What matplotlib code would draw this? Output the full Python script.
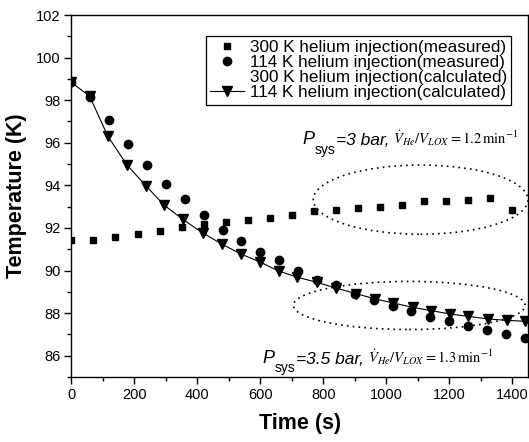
import matplotlib
matplotlib.use('Agg')
import matplotlib.pyplot as plt
from matplotlib.patches import Ellipse
from matplotlib.ticker import MultipleLocator

plt.rcParams['font.family'] = ['Liberation Sans', 'DejaVu Sans']
plt.rcParams['mathtext.fontset'] = 'stix'

# 300 K helium injection, measured (squares)
t_300 = [0, 70, 140, 210, 280, 350, 420, 490, 560, 630, 700,
         770, 840, 910, 980, 1050, 1120, 1190, 1260, 1330, 1400]
T_300 = [91.42, 91.45, 91.58, 91.72, 91.84, 92.05, 92.2, 92.28, 92.36, 92.47, 92.62,
         92.78, 92.86, 92.94, 92.98, 93.09, 93.27, 93.25, 93.33, 93.41, 92.86]

# 114 K helium injection, measured (circles)
t_114m = [0, 60, 120, 180, 240, 300, 360, 420, 480, 540, 600, 660, 720,
          780, 840, 900, 960, 1020, 1080, 1140, 1200, 1260, 1320, 1380, 1440]
T_114m = [98.84, 98.15, 97.05, 95.96, 94.96, 94.07, 93.36, 92.59, 91.92, 91.39, 90.89, 90.5, 90.0,
          89.57, 89.31, 88.92, 88.63, 88.32, 88.08, 87.82, 87.65, 87.41, 87.23, 87.02, 86.84]

# 114 K helium injection, calculated (triangles + line)
t_114c = [0, 58, 116, 176, 236, 294, 354, 417, 477, 538, 599, 658, 717,
          779, 840, 904, 964, 1022, 1084, 1142, 1202, 1260, 1322, 1382, 1440]
T_114c = [98.84, 98.18, 96.3, 94.97, 93.99, 93.08, 92.4, 91.77, 91.25, 90.78, 90.4, 89.98, 89.69,
          89.45, 89.18, 88.92, 88.67, 88.48, 88.27, 88.12, 87.96, 87.85, 87.73, 87.66, 87.62]

labels = ['300 K helium injection(measured)', '114 K helium injection(measured)',
          '300 K helium injection(calculated)', '114 K helium injection(calculated)']

fig = plt.figure(figsize=(5.29, 4.42), dpi=100)
ax = fig.add_axes([0.135, 0.147, 0.863, 0.819])

ax.plot(t_300, T_300, 's', color='black', ms=5, label=labels[0])
ax.plot(t_114m, T_114m, 'o', color='black', ms=6, label=labels[1])
ax.plot([], [], ' ', label=labels[2])
ax.plot(t_114c, T_114c, 'v-', color='black', ms=7, lw=0.8, label=labels[3])

# dotted ellipses around the end of each run
for cx, cy, w, h in [(1109, 93.33, 682, 3.25), (1073, 88.36, 736, 2.26)]:
    ax.add_patch(Ellipse((cx, cy), w, h, fill=False, edgecolor='black',
                         lw=1.2, linestyle=(0, (1, 2.5))))

ax.set_xlim(0, 1450)
ax.set_ylim(85, 102)
ax.xaxis.set_major_locator(MultipleLocator(200))
ax.xaxis.set_minor_locator(MultipleLocator(100))
ax.yaxis.set_major_locator(MultipleLocator(2))
ax.yaxis.set_minor_locator(MultipleLocator(1))
ax.tick_params(which='both', direction='out', top=False, right=False, labelsize=10.5, width=1)
ax.tick_params(which='major', length=5, pad=3)
ax.tick_params(which='minor', length=3)
for s in ax.spines.values():
    s.set_linewidth(1)

ax.set_xlabel('Time (s)', fontsize=15.5, fontweight='bold', labelpad=8)
ax.set_ylabel('Temperature (K)', fontsize=15.5, fontweight='bold', labelpad=6)

leg = ax.legend(loc='upper right', bbox_to_anchor=(0.963, 0.942), fontsize=12.3,
                frameon=True, fancybox=False, edgecolor='black', framealpha=1,
                labelspacing=0.0, borderpad=0.25, handletextpad=0.3, handlelength=2.0,
                borderaxespad=0)
leg.get_frame().set_linewidth(0.9)


def condition(x, y, pressure, ratio):
    p = ax.text(x, y, 'P', fontsize=13, style='italic', va='baseline')
    sub = ax.annotate('sys', xy=(1, 0.3), xycoords=p, fontsize=10, va='top', ha='left')
    eq = ax.annotate('=' + pressure + ' bar,', xy=(1, 0), xycoords=(sub, p),
                     fontsize=12.5, style='italic', va='bottom', ha='left')
    ax.annotate(r' $\dot{V}_{He}/V_{LOX}=' + ratio + r'\,\mathrm{min}^{-1}$',
                xy=(1, 0), xycoords=eq, fontsize=10.5, va='bottom', ha='left')


condition(735, 95.95, '3', '1.2')
condition(608, 85.68, '3.5', '1.3')

fig.savefig('out.png', dpi=100)
